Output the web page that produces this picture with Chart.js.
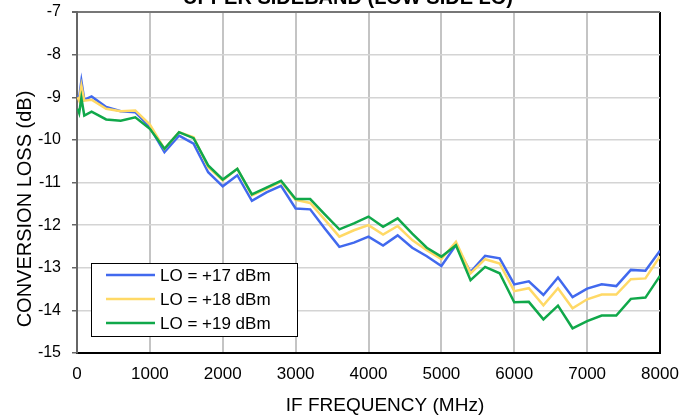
<!DOCTYPE html>
<html>
<head>
<meta charset="utf-8">
<script src="https://cdn.jsdelivr.net/npm/chart.js@4"></script>
<style>
  body { margin: 0; background: #fff; }
  #wrap { width: 696px; height: 420px; position: relative; }
</style>
</head>
<body>
<div id="wrap"><canvas id="lossChart"></canvas></div>
<script>
// IF frequency points (MHz)
var freqMHz = [10, 30, 60, 100, 200, 400, 600, 800, 1000, 1200, 1400, 1600, 1800, 2000,
  2200, 2400, 2600, 2800, 3000, 3200, 3400, 3600, 3800, 4000, 4200, 4400, 4600, 4800,
  5000, 5200, 5400, 5600, 5800, 6000, 6200, 6400, 6600, 6800, 7000, 7200, 7400, 7600,
  7800, 8000];

// conversion loss (dB) per LO drive
var lo17 = [-8.95, -9.0, -8.62, -9.06, -8.98, -9.23, -9.33, -9.35, -9.7, -10.29, -9.9, -10.09, -10.76, -11.09,
  -10.83, -11.43, -11.23, -11.08, -11.61, -11.63, -12.08, -12.51, -12.41, -12.27, -12.48, -12.24, -12.53, -12.73,
  -12.96, -12.47, -13.1, -12.72, -12.78, -13.39, -13.32, -13.64, -13.23, -13.69, -13.49, -13.39, -13.43, -13.05,
  -13.07, -12.6];
var lo18 = [-9.0, -9.08, -8.73, -9.08, -9.06, -9.27, -9.33, -9.31, -9.64, -10.21, -9.82, -9.94, -10.64, -10.95,
  -10.68, -11.3, -11.15, -10.98, -11.41, -11.48, -11.87, -12.27, -12.12, -12.0, -12.22, -12.02, -12.35, -12.59,
  -12.8, -12.39, -13.13, -12.8, -12.9, -13.55, -13.48, -13.88, -13.48, -13.95, -13.74, -13.63, -13.63, -13.27,
  -13.25, -12.73];
var lo19 = [-9.27, -9.37, -9.02, -9.43, -9.34, -9.52, -9.55, -9.47, -9.74, -10.21, -9.82, -9.96, -10.6, -10.93,
  -10.68, -11.28, -11.12, -10.96, -11.39, -11.39, -11.75, -12.1, -11.96, -11.8, -12.04, -11.84, -12.2, -12.53,
  -12.74, -12.47, -13.29, -12.98, -13.13, -13.81, -13.8, -14.21, -13.89, -14.42, -14.25, -14.12, -14.12, -13.73,
  -13.7, -13.19];

var seriesLabels = ["LO = +17 dBm", "LO = +18 dBm", "LO = +19 dBm"];
var chartTitle = "UPPER SIDEBAND (LOW SIDE LO)";
var xTitle = "IF FREQUENCY (MHz)";
var yTitle = "CONVERSION LOSS (dB)";

function toPoints(vals) {
  return freqMHz.map(function (f, i) { return { x: f, y: vals[i] }; });
}

var FONT = "'Liberation Sans', Arial, sans-serif";

// chart title (mostly above the canvas edge) and both axis titles
var titlePlugin = {
  id: "titles",
  afterDraw: function (chart) {
    var c = chart.ctx;
    c.save();
    c.fillStyle = "#000";
    c.textAlign = "center";
    c.font = "bold 20px " + FONT;
    c.textBaseline = "alphabetic";
    c.fillText(chartTitle, 348, 4);

    c.textBaseline = "middle";
    c.font = "19px " + FONT;
    c.fillText(xTitle, 385, 406);

    c.translate(25, 209);
    c.rotate(-Math.PI / 2);
    c.font = "20px " + FONT;
    c.fillText(yTitle, 0, 0);
    c.restore();
  }
};

// boxed legend inside the plot area, bottom left
var boxLegend = {
  id: "boxLegend",
  afterDatasetsDraw: function (chart) {
    var c = chart.ctx;
    var x0 = 91, y0 = 263, w = 206, h = 73;
    c.save();
    c.fillStyle = "#fff";
    c.fillRect(x0, y0, w, h);
    c.strokeStyle = "#000";
    c.lineWidth = 1;
    c.strokeRect(x0 + 0.5, y0 + 0.5, w, h);
    c.font = "17px " + FONT;
    c.textBaseline = "middle";
    c.fillStyle = "#000";
    chart.data.datasets.forEach(function (ds, i) {
      var yy = y0 + 12 + i * 24;
      c.strokeStyle = ds.borderColor;
      c.lineWidth = 2.5;
      c.beginPath();
      c.moveTo(106, yy);
      c.lineTo(155, yy);
      c.stroke();
      c.fillText(ds.label, 160, yy + 1);
    });
    c.restore();
  }
};

var ctx = document.getElementById("lossChart").getContext("2d");
new Chart(ctx, {
  type: "line",
  data: {
    datasets: [
      { label: seriesLabels[0], data: toPoints(lo17), borderColor: "#4169ee", order: 2 },
      { label: seriesLabels[1], data: toPoints(lo18), borderColor: "#ffd966", order: 1 },
      { label: seriesLabels[2], data: toPoints(lo19), borderColor: "#10a84a", order: 0 }
    ]
  },
  options: {
    responsive: true,
    maintainAspectRatio: false,
    animation: false,
    layout: { padding: { left: 0, right: 36, top: 12, bottom: 0 } },
    elements: {
      line: { borderWidth: 2.5, tension: 0, fill: false },
      point: { radius: 0 }
    },
    plugins: {
      legend: { display: false },
      tooltip: { enabled: false }
    },
    scales: {
      x: {
        type: "linear",
        min: 0,
        max: 8000,
        afterFit: function (s) { s.height = 67; s.paddingLeft = 0; s.paddingRight = 0; },
        ticks: {
          stepSize: 1000,
          padding: 11,
          color: "#000",
          font: { family: FONT, size: 17 },
          callback: function (v) { return String(v); }
        },
        grid: {
          drawTicks: false,
          color: function (c) { return c.tick && c.tick.value === 8000 ? "#000" : "#c4c4c4"; },
          lineWidth: 2
        },
        border: { color: "#000", width: 2 }
      },
      y: {
        min: -15,
        max: -7,
        afterFit: function (s) { s.width = 77; s.paddingTop = 0; s.paddingBottom = 0; },
        ticks: {
          stepSize: 1,
          padding: 11,
          color: "#000",
          font: { family: FONT, size: 16 }
        },
        grid: {
          tickLength: 5,
          tickColor: "#666",
          color: function (c) { return c.tick && c.tick.value === -7 ? "#777" : "#d4d4d4"; },
          lineWidth: function (c) { return c.tick && c.tick.value === -7 ? 2 : 1.5; }
        },
        border: { color: "#666", width: 2 }
      }
    }
  },
  plugins: [titlePlugin, boxLegend]
});
</script>
</body>
</html>
